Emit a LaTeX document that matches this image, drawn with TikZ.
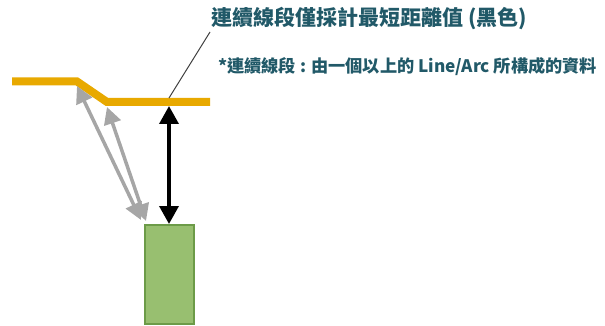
\documentclass[tikz,border=0pt]{standalone}
\usepackage{fontspec}
\newfontfamily\cjk{Noto Sans CJK TC}
\usetikzlibrary{arrows.meta}
\definecolor{txtteal}{RGB}{33,89,104}
\definecolor{gold}{RGB}{232,169,0}
\definecolor{grayarr}{RGB}{166,166,166}
\definecolor{boxfill}{RGB}{152,191,112}
\definecolor{boxline}{RGB}{108,155,72}
\tikzset{
  titletext/.style={anchor=west,inner sep=0pt,text=txtteal,font=\cjk\bfseries\fontsize{21}{24}\selectfont},
  notetext/.style={anchor=west,inner sep=0pt,text=txtteal,font=\cjk\bfseries\fontsize{17.2}{20}\selectfont},
  polyline/.style={draw=gold,line width=8pt},
  grayarrow/.style={draw=grayarr,line width=3.5pt,{Triangle[width=17pt,length=17pt]}-{Triangle[width=17pt,length=17pt]}},
  blackarrow/.style={draw=black,line width=3.5pt,{Triangle[width=19pt,length=18pt]}-{Triangle[width=19pt,length=18pt]}},
  leader/.style={draw=black!75,line width=1pt},
  boxnode/.style={draw=boxline,fill=boxfill,line width=2pt,minimum width=49pt,minimum height=99pt,inner sep=0pt}
}
\begin{document}
\begin{tikzpicture}[x=1pt,y=-1pt]
\useasboundingbox (0,0) rectangle (605,326);
% polyline corners
\coordinate (p0) at (12,81.5);
\coordinate (p1) at (77,81.5);
\coordinate (p2) at (107,102);
\coordinate (p3) at (210,102);
\draw[polyline,line join=miter] (p0) -- (p1) -- (p2) -- (p3);
% green part
\node[boxnode] (box) at (169.5,274.5) {};
% text
\node[titletext] (title) at (211,19) {連續線段僅採計最短距離值 (黑色)};
\node[notetext] (note) at (218,66.5) {*連續線段 : 由一個以上的 Line/Arc 所構成的資料};
% leader
\coordinate (lead0) at (169,98);
\coordinate (lead1) at (210,32);
\draw[leader] (lead0) -- (lead1);
% arrows
\coordinate (g1a) at (77,86);
\coordinate (g1b) at (141,220);
\coordinate (g2a) at (107,107);
\coordinate (g2b) at (146,221);
\draw[grayarrow] (g1a) -- (g1b);
\draw[grayarrow] (g2a) -- (g2b);
\coordinate (ba) at (169,106);
\draw[blackarrow] (ba) -- (box.north -| ba);
\end{tikzpicture}
\end{document}
